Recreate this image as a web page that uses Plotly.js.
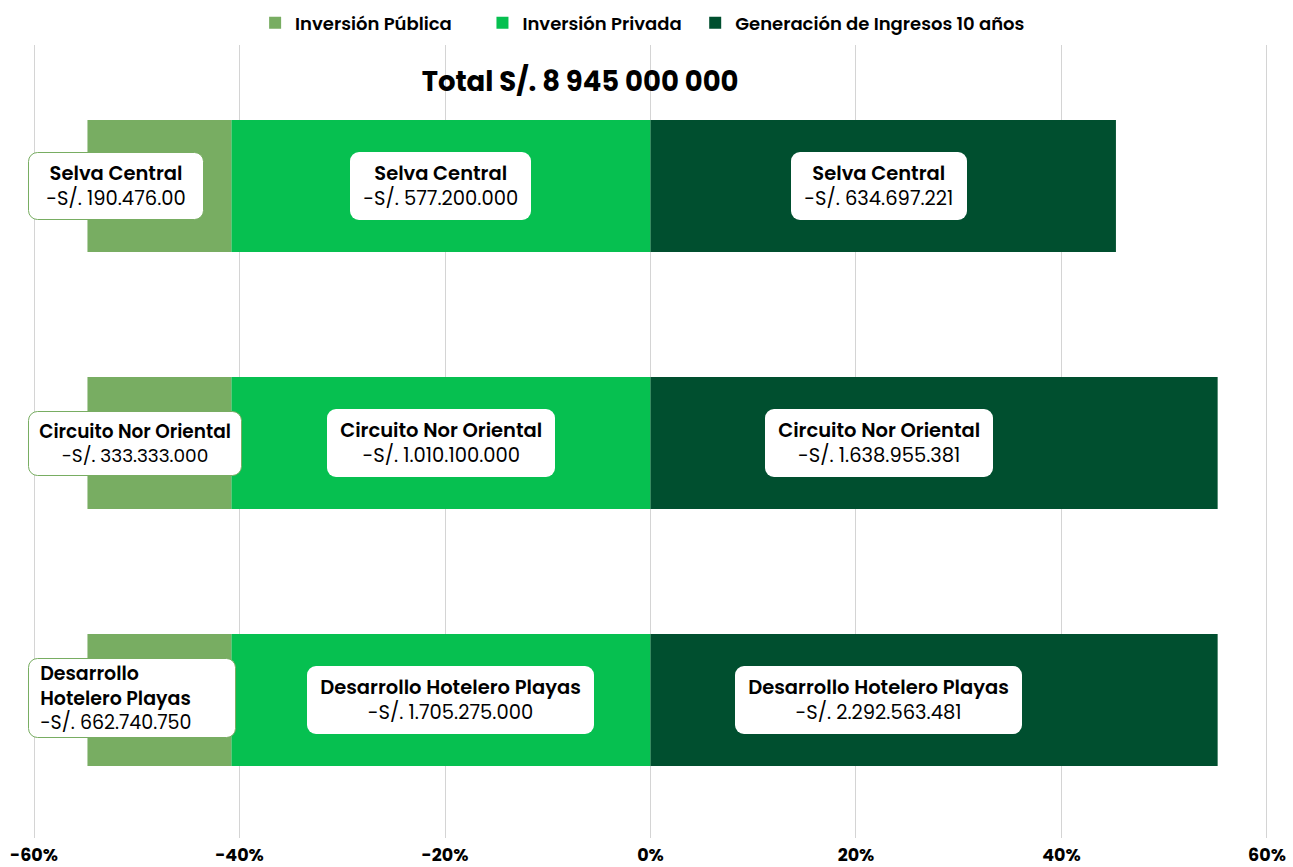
<!DOCTYPE html>
<html>
<head>
<meta charset="utf-8">
<script src="https://cdn.plot.ly/plotly-3.0.1.min.js"></script>
<style>
html,body{margin:0;padding:0;background:#fff;}
#chart{width:1293px;height:867px;}
</style>
</head>
<body>
<div id="chart"></div>
<script>
const categories = ['Selva Central', 'Circuito Nor Oriental', 'Desarrollo Hotelero Playas'];
const publicTitles = ['Selva Central', 'Circuito Nor Oriental', 'Desarrollo<br>Hotelero Playas'];
const publicPct = [-14.0, -14.0, -14.0];
const privatePct = [-40.8, -40.8, -40.8];
const incomePct = [45.3, 55.2, 55.2];
const publicAmounts = ['-S/. 190.476.00', '-S/. 333.333.000', '-S/. 662.740.750'];
const privateAmounts = ['-S/. 577.200.000', '-S/. 1.010.100.000', '-S/. 1.705.275.000'];
const incomeAmounts = ['-S/. 634.697.221', '-S/. 1.638.955.381', '-S/. 2.292.563.481'];
const seriesNames = ['Inversión Pública', 'Inversión Privada', 'Generación de Ingresos 10 años'];
const tickVals = [-60, -40, -20, 0, 20, 40, 60];
const tickText = ['-60%', '-40%', '-20%', '0%', '20%', '40%', '60%'];
const titleText = 'Total S/. 8 945 000 000';

const FONT = 'Poppins, Inter, "Open Sans", sans-serif';
const cPub = '#78ad62', cPriv = '#06c050', cInc = '#004f2f';
const NB = '\u00a0';
const pubFontSize = [19.5, 18.5, 19];
const pubBoxWidth = [160, 198, 204];
const pubPad = [7, 7, 1];
const privShift = [0, 0, 10];

const traces = [
  {type:'bar', orientation:'h', name: seriesNames[1] + NB + NB, y: categories, x: privatePct,
   marker:{color:cPriv}, legendrank:2, hoverinfo:'skip'},
  {type:'bar', orientation:'h', name: seriesNames[0] + NB.repeat(6), y: categories, x: publicPct,
   marker:{color:cPub}, legendrank:1, hoverinfo:'skip'},
  {type:'bar', orientation:'h', name: seriesNames[2], y: categories, x: incomePct,
   marker:{color:cInc}, legendrank:3, hoverinfo:'skip'}
];

function lbl(title, amount, pad) {
  const lines = title.split('<br>').map(t => pad + '<span style="font-weight:600">' + t + '</span>' + pad);
  return lines.join('<br>') + '<br>' + pad + amount + pad;
}

const annotations = [];
categories.forEach((c, i) => {
  annotations.push({
    xref:'paper', yref:'y', x: -5/1235, y: c, xanchor:'left', yanchor:'middle',
    text: lbl(publicTitles[i], publicAmounts[i], i === 2 ? NB + NB : ''),
    align: i === 2 ? 'left' : 'center', showarrow:false,
    width: pubBoxWidth[i],
    font:{family:FONT, size:pubFontSize[i], color:'#000'},
    bgcolor:'#ffffff', bordercolor:cPub, borderwidth:1, borderpad: pubPad[i],
    yshift: i === 2 ? 2 : 0
  });
  annotations.push({
    xref:'x', yref:'y', x: privatePct[i] / 2, y: c, xanchor:'center', yanchor:'middle',
    xshift: privShift[i],
    text: lbl(categories[i], privateAmounts[i], NB),
    align:'center', showarrow:false,
    font:{family:FONT, size:19.5, color:'#000'},
    bgcolor:'#ffffff', borderwidth:0, borderpad:8
  });
  annotations.push({
    xref:'x', yref:'y', x: 22.2, y: c, xanchor:'center', yanchor:'middle',
    text: lbl(categories[i], incomeAmounts[i], NB),
    align:'center', showarrow:false,
    font:{family:FONT, size:19.5, color:'#000'},
    bgcolor:'#ffffff', borderwidth:0, borderpad:8
  });
});

const layout = {
  width:1293, height:867,
  paper_bgcolor:'#fff', plot_bgcolor:'#fff',
  margin:{l:33, r:25, t:45, b:29},
  barmode:'relative', bargap:0.486,
  font:{family:FONT, color:'#000'},
  title:{text:'<b>' + titleText + '</b>', xref:'paper', x:0.443, xanchor:'center',
         yref:'container', y:1 - 81/867, yanchor:'middle',
         font:{family:FONT, size:27.5, color:'#000'}},
  legend:{orientation:'h', xref:'container', x:0.497, xanchor:'center',
          yref:'container', y:1 - 23/867, yanchor:'middle',
          font:{family:FONT, size:18, color:'#000', weight:600},
          itemwidth:30, tracegroupgap:0},
  xaxis:{range:[-60.1, 60.1], tickvals:tickVals, ticktext:tickText,
         showgrid:true, gridcolor:'#d4d4d4', gridwidth:1, zeroline:false,
         showline:false, ticks:'', ticklabelstandoff:4,
         tickfont:{family:FONT, size:17.5, color:'#000', weight:'bold'}, fixedrange:true},
  yaxis:{type:'category', categoryarray:categories, range:[2.537, -0.549],
         showticklabels:false, showgrid:false, zeroline:false, showline:false, ticks:'', fixedrange:true},
  annotations: annotations,
  showlegend:true
};

Plotly.newPlot('chart', traces, layout, {displayModeBar:false, staticPlot:true}).then(() => {
  document.querySelectorAll('g.annotation rect.bg').forEach(r => {
    r.setAttribute('rx', 9); r.setAttribute('ry', 9);
  });
});
</script>
</body>
</html>
